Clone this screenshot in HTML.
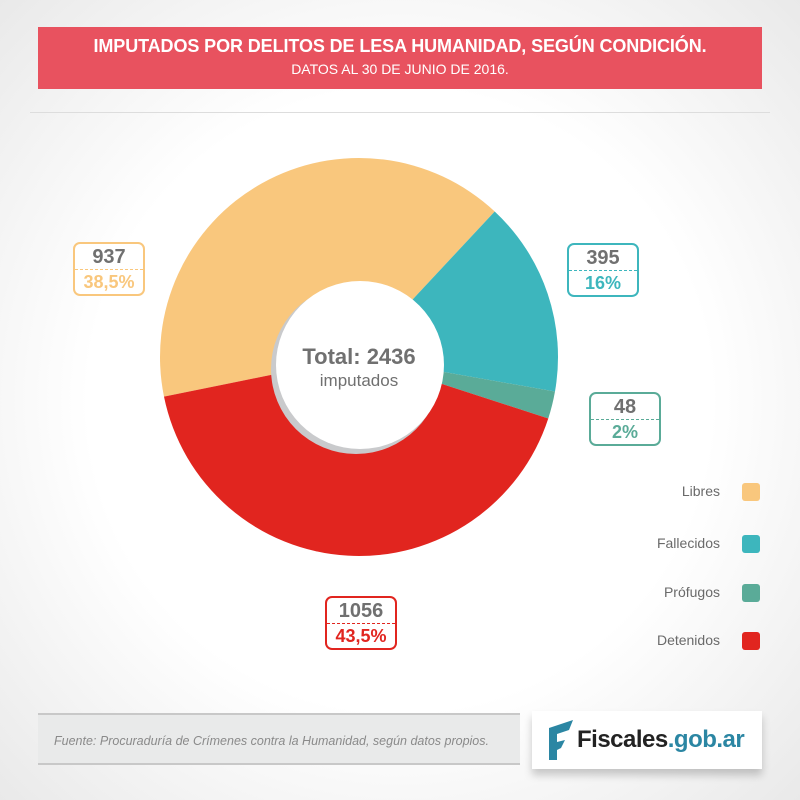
<!DOCTYPE html>
<html><head><meta charset="utf-8"><style>
body{margin:0;width:800px;height:800px;overflow:hidden;font-family:"Liberation Sans",sans-serif;background:radial-gradient(ellipse at 50% 50%,#ffffff 55%,#e9e9e9 100%);position:relative}
.hdr{position:absolute;left:38px;top:27px;width:724px;height:62px;background:#e8525f;color:#fff;text-align:center}
.hdr .a{font-weight:bold;font-size:18px;margin-top:9px;letter-spacing:-0.1px}
.hdr .b{font-size:14px;margin-top:4px}
.box{position:absolute;width:72px;height:54px;border:2px solid;border-radius:7px;background:#fff;text-align:center;font-weight:bold;box-sizing:border-box}
.box .n{font-size:20px;color:#707070;height:25px;line-height:27px;border-bottom:1.5px dashed}
.box .p{font-size:18px;line-height:24px}
.leg{position:absolute;right:40px;font-size:14px;color:#6a6a6a}
.leg span{display:inline-block;width:18px;height:18px;border-radius:3px;vertical-align:middle;margin-left:22px}
</style></head><body>
<div class="hdr"><div class="a">IMPUTADOS POR DELITOS DE LESA HUMANIDAD, SEGÚN CONDICIÓN.</div><div class="b">DATOS AL 30 DE JUNIO DE 2016.</div></div>
<div style="position:absolute;left:30px;top:112px;width:740px;height:1px;background:#ddd"></div>
<svg width="800" height="800" style="position:absolute;left:0;top:0">
<g id="d"></g>
</svg>
<script>
var cx=359,cy=357,R=199;
function p(a){a=a*Math.PI/180;return [cx+R*Math.sin(a),cy-R*Math.cos(a)]}
function seg(a0,a1,c){var s=p(a0),e=p(a1);var d=a1-a0;return '<path d="M'+cx+','+cy+'L'+s[0]+','+s[1]+'A'+R+','+R+' 0 '+(d>180?1:0)+' 1 '+e[0]+','+e[1]+'Z" fill="'+c+'"/>'}
document.getElementById('d').innerHTML=seg(258.5,403,'#f9c77d')+seg(43,100,'#3db6bd')+seg(100,108,'#5aab98')+seg(108,258.5,'#e1251f')+
'<circle cx="356" cy="369" r="85" fill="#c9cacc"/><circle cx="360" cy="365" r="84" fill="#fff"/>'+
'<text x="359" y="364" text-anchor="middle" font-family="Liberation Sans" font-weight="bold" font-size="22" fill="#707070">Total: 2436</text>'+
'<text x="359" y="386" text-anchor="middle" font-family="Liberation Sans" font-size="17" fill="#707070">imputados</text>';
</script>
<div class="box" style="left:73px;top:242px;border-color:#f9c77d"><div class="n" style="border-color:#f9c77d">937</div><div class="p" style="color:#f9c77d">38,5%</div></div>
<div class="box" style="left:567px;top:243px;border-color:#3db6bd"><div class="n" style="border-color:#3db6bd">395</div><div class="p" style="color:#3db6bd">16%</div></div>
<div class="box" style="left:589px;top:392px;border-color:#5aab98"><div class="n" style="border-color:#5aab98">48</div><div class="p" style="color:#5aab98">2%</div></div>
<div class="box" style="left:325px;top:596px;border-color:#e1251f"><div class="n" style="border-color:#e1251f">1056</div><div class="p" style="color:#e1251f">43,5%</div></div>
<div class="leg" style="top:483px">Libres<span style="background:#f9c77d"></span></div>
<div class="leg" style="top:535px">Fallecidos<span style="background:#3db6bd"></span></div>
<div class="leg" style="top:584px">Prófugos<span style="background:#5aab98"></span></div>
<div class="leg" style="top:632px">Detenidos<span style="background:#e1251f"></span></div>
<div style="position:absolute;left:38px;top:713px;width:482px;height:52px;background:#e9eaea;border-top:2px solid #c8c8c8;border-bottom:2px solid #c8c8c8;font-style:italic;font-size:12.5px;color:#8a8a8a;line-height:52px;padding-left:16px;box-sizing:border-box">Fuente: Procuraduría de Crímenes contra la Humanidad, según datos propios.</div>
<div style="position:absolute;left:532px;top:711px;width:230px;height:58px;background:#fff;box-shadow:0 6px 8px rgba(0,0,0,0.2)">
<svg width="30" height="40" style="position:absolute;left:15px;top:9px"><polygon points="2,8 26,0 22,10 10,14 10,22 18,20 14,28 10,30 10,40 2,42" fill="#2b86a3"/></svg>
<div style="position:absolute;left:45px;top:15px;font-size:24px;font-weight:bold;color:#222;letter-spacing:-0.5px">Fiscales<span style="color:#2b86a3">.gob.ar</span></div></div>
</body></html>
